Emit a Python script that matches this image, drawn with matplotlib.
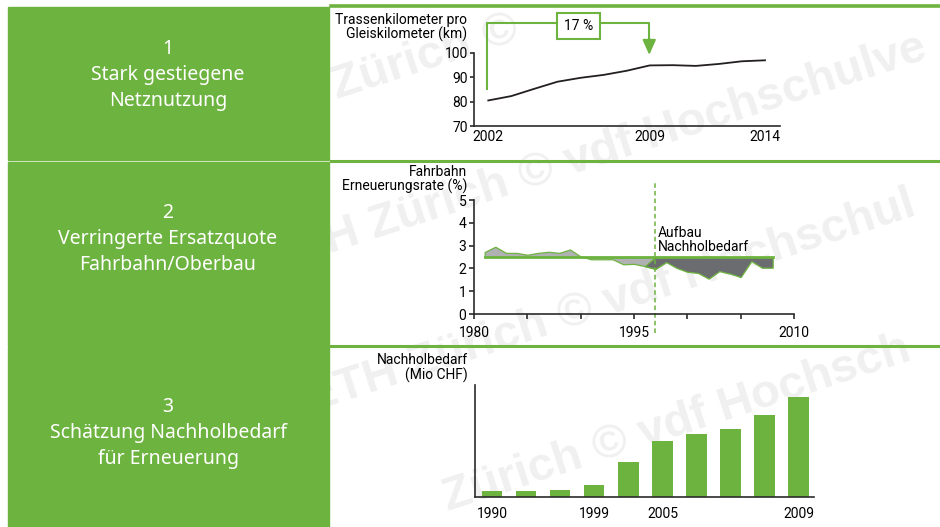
import numpy as np
import matplotlib
matplotlib.use("Agg")
import matplotlib.pyplot as plt
from matplotlib.patches import Rectangle

plt.rcParams['font.family'] = ['Roboto', 'DejaVu Sans']

GREEN = '#6db33f'
DARK = '#2b2b2b'
FS = 10

# panel texts
panel_titles = ["1\nStark gestiegene\nNetznutzung",
                "2\nVerringerte Ersatzquote\nFahrbahn/Oberbau",
                "3\nSchätzung Nachholbedarf\nfür Erneuerung"]

# chart 1: Trassenkilometer pro Gleiskilometer
years_1 = [2002, 2003, 2004, 2005, 2006, 2007, 2008, 2009, 2010, 2011, 2012, 2013, 2014]
km_1 = [80.5, 82.3, 85.3, 88.2, 89.8, 91.0, 92.7, 94.9, 95.0, 94.7, 95.5, 96.6, 97.0]
ticks_1 = [2002, 2009, 2014]

# chart 2: Erneuerungsrate Fahrbahn
years_2 = list(range(1981, 2009))
rate_2 = [2.72, 2.95, 2.68, 2.68, 2.60, 2.68, 2.73, 2.68, 2.83, 2.52,
          2.40, 2.40, 2.40, 2.18, 2.20, 2.10, 1.98, 2.28, 2.02, 1.85,
          1.80, 1.55, 1.88, 1.77, 1.62, 2.32, 2.03, 2.03]
target_2 = 2.5
split_year = 1997
ticks_2 = [1980, 1995, 2010]

# chart 3: Nachholbedarf (Mio CHF), relative heights
years_3 = ['1990', '1993', '1996', '1999', '2002', '2005', '2006', '2007', '2008', '2009']
need_3 = [50, 50, 60, 100, 280, 450, 505, 545, 655, 800]
shown_3 = ['1990', '1999', '2005', '2009']

W, H = 940, 527
fig = plt.figure(figsize=(W / 100, H / 100), dpi=100)


def fx(px):
    return px / W


def fy(py):
    return 1 - py / H


def axes_px(left, top, right, bottom):
    ax = fig.add_axes([fx(left), fy(bottom), fx(right - left), (bottom - top) / H])
    ax.patch.set_alpha(0)
    return ax


def style_spines(ax):
    for s in ['top', 'right']:
        ax.spines[s].set_visible(False)
    for s in ['left', 'bottom']:
        ax.spines[s].set_color(DARK)
        ax.spines[s].set_linewidth(1.2)


# faint watermark rows, split at the copyright sign
marks = [("Zürich ", "©", 487, 50),
         ("ETH Zürich ", "© vdf Hochschulve", 524, 190),
         ("ETH Zürich ", "© vdf Hochschul", 563, 330),
         ("Zürich ", "© vdf Hochsch", 598, 462)]
for pre, post, x0, y0 in marks:
    for txt, ha in [(pre, 'right'), (post, 'left')]:
        fig.text(fx(x0), fy(y0), txt, rotation=18, fontsize=34, fontweight='bold',
                 family='Liberation Sans', color='#f0f0f0', zorder=-5, ha=ha,
                 va='baseline', rotation_mode='anchor')

# green boxes on the left
boxes = [(7, 160), (162.5, 345.5), (347, 527)]
centers = [75, 239, 433]
for (top, bot), cy, txt in zip(boxes, centers, panel_titles):
    fig.patches.append(Rectangle((fx(8), fy(bot)), fx(321), (bot - top) / H,
                                 transform=fig.transFigure, color=GREEN, zorder=-1))
    fig.text(fx(168), fy(cy), txt, ha='center', va='center', color='white',
             fontsize=14, family=['Noto Sans', 'DejaVu Sans'], linespacing=1.42)

# green separators on the right
for y, lw in [(5.5, 2.6), (161, 2.2), (346, 2.2)]:
    fig.add_artist(plt.Line2D([fx(331), 1], [fy(y), fy(y)], color=GREEN, lw=lw,
                              transform=fig.transFigure))

# chart 1
ax1 = axes_px(474, 53, 780, 126)
ax1.plot(years_1, km_1, color='#231f20', lw=1.3)
ax1.set_xlim(2001.38, 2014.65)
ax1.set_ylim(70, 100)
ax1.set_yticks([70, 80, 90, 100])
ax1.set_xticks(ticks_1)
style_spines(ax1)
ax1.tick_params(axis='x', length=0, pad=3, labelsize=FS)
ax1.tick_params(axis='y', length=3, width=1.2, color=DARK, pad=1.5, labelsize=FS)
fig.text(fx(467), fy(27.5), "Trassenkilometer pro\nGleiskilometer (km)",
         ha='right', va='center', fontsize=FS, linespacing=1.05)
# 17 % annotation
ax1.plot([2001.96, 2001.96, 2004.97], [85.1, 112.2, 112.2], color=GREEN, lw=1.5, clip_on=False)
ax1.plot([2006.84, 2008.98, 2008.98], [112.2, 112.2, 104.5], color=GREEN, lw=1.5, clip_on=False)
ax1.add_patch(Rectangle((2004.97, 105.6), 1.87, 10.7, fill=False, edgecolor=GREEN, lw=1.5,
                        clip_on=False))
ax1.text(2005.9, 111.0, "17 %", ha='center', va='center', fontsize=FS)
ax1.annotate("", xy=(2008.98, 99.2), xytext=(2008.98, 106),
             arrowprops=dict(arrowstyle='-|>,head_length=0.9,head_width=0.4', color=GREEN,
                             lw=1.5, shrinkA=0, shrinkB=0),
             annotation_clip=False)

# chart 2
ax2 = axes_px(474, 200, 794, 314)
yrs = np.array(years_2)
vals = np.array(rate_2)
ax2.fill_between(yrs, vals, target_2, where=yrs <= split_year, facecolor='#b0b1b3',
                 edgecolor=GREEN, lw=0.9, interpolate=True)
ax2.fill_between(yrs, vals, target_2, where=yrs >= split_year, facecolor='#6b6c6f',
                 edgecolor=GREEN, lw=0.9, interpolate=True)
ax2.plot([yrs[0], yrs[-1]], [target_2, target_2], color=GREEN, lw=2)
ax2.plot([split_year, split_year], [-0.83, 5.75], color=GREEN, lw=1.1, ls=(0, (3, 2)),
         clip_on=False)
ax2.text(split_year + 0.2, 2.62, "Aufbau\nNachholbedarf", ha='left', va='bottom',
         fontsize=FS, linespacing=1.0)
ax2.set_xlim(1980, 2010)
ax2.set_ylim(0, 5)
ax2.set_yticks(range(6))
ax2.set_xticks(range(1980, 2011, 5))
ax2.set_xticklabels([str(t) if t in ticks_2 else '' for t in range(1980, 2011, 5)])
style_spines(ax2)
ax2.tick_params(axis='both', length=3.5, width=1.2, color=DARK, pad=2, labelsize=FS)
ax2.tick_params(axis='x', pad=5)
fig.text(fx(467), fy(179.5), "Fahrbahn\nErneuerungsrate (%)",
         ha='right', va='center', fontsize=FS, linespacing=1.05)

# chart 3
ax3 = axes_px(475, 385, 814, 497)
xs = np.arange(len(years_3))
ax3.bar(xs, need_3, width=0.6, color=GREEN)
ax3.set_xlim(-0.5, 9.45)
ax3.set_ylim(0, 900)
ax3.set_yticks([])
ax3.set_xticks(xs)
ax3.set_xticklabels([y if y in shown_3 else '' for y in years_3])
style_spines(ax3)
ax3.tick_params(axis='x', length=0, pad=7, labelsize=FS)
fig.text(fx(468), fy(368), "Nachholbedarf\n(Mio CHF)",
         ha='right', va='center', fontsize=FS, linespacing=1.05)

fig.savefig("out.png", dpi=100)
